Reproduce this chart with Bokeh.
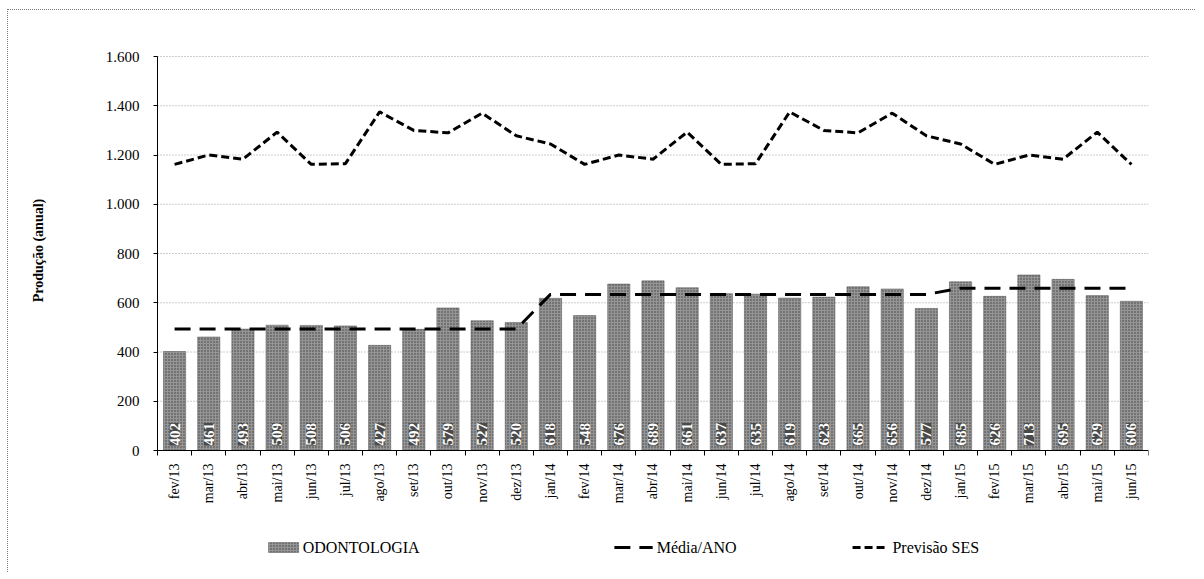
import math
from bokeh.plotting import figure
from bokeh.models import (ColumnDataSource, FixedTicker, Range1d, Label)
from bokeh.core.properties import value
from bokeh.embed import file_html
from bokeh.resources import INLINE

# ---- data -------------------------------------------------------------
months = ["fev/13", "mar/13", "abr/13", "mai/13", "jun/13", "jul/13", "ago/13",
          "set/13", "out/13", "nov/13", "dez/13",
          "jan/14", "fev/14", "mar/14", "abr/14", "mai/14", "jun/14", "jul/14",
          "ago/14", "set/14", "out/14", "nov/14", "dez/14",
          "jan/15", "fev/15", "mar/15", "abr/15", "mai/15", "jun/15"]
odontologia = [402, 461, 493, 509, 508, 506, 427, 492, 579, 527, 520,
               618, 548, 676, 689, 661, 637, 635, 619, 623, 665, 656, 577,
               685, 626, 713, 695, 629, 606]
media_ano = [493, 493, 493, 493, 493, 493, 493, 493, 493, 493, 493,
             634, 634, 634, 634, 634, 634, 634, 634, 634, 634, 634, 634,
             659, 659, 659, 659, 659, 659]
previsao_ses = [1162, 1200, 1183, 1293, 1162, 1165, 1375, 1300, 1290, 1370, 1278,
                1245, 1162, 1200, 1183, 1293, 1162, 1165, 1375, 1300, 1290, 1370,
                1278, 1245, 1162, 1200, 1183, 1293, 1162]
y_ticks = [0, 200, 400, 600, 800, 1000, 1200, 1400, 1600]
y_tick_labels = ["0", "200", "400", "600", "800", "1.000", "1.200", "1.400", "1.600"]
legend_labels = ["ODONTOLOGIA", "Média/ANO", "Previsão SES"]

FONT = "Liberation Serif"
N = len(months)

xs = [i + 0.5 for i in range(N)]
src = ColumnDataSource(dict(x=xs, month=months, odo=odontologia,
                            media=media_ano, prev=previsao_ses,
                            lab=[str(v) for v in odontologia],
                            zero=[0] * N))

# the frame covers the whole figure; axes are pinned at x=0 / y=0 so that
# the month labels, the y title and the legend all live inside the frame
p = figure(width=1188, height=563, output_backend="svg", toolbar_location=None,
           x_range=Range1d(-4.36, N), y_range=Range1d(-467, 1661),
           min_border_left=0, min_border_right=48, min_border_top=31,
           min_border_bottom=8)
p.outline_line_color = None
p.styles = {"margin-left": "7px", "margin-top": "9px",
            "border-left": "1px dotted #777", "border-top": "1px dotted #777"}

# horizontal grid limited to the category span
p.xgrid.visible = False
p.ygrid.visible = False
p.segment(x0=[0] * (len(y_ticks) - 1), x1=[N] * (len(y_ticks) - 1),
          y0=y_ticks[1:], y1=y_ticks[1:], line_color="#9a9a9a",
          line_dash="1 2", line_width=1)

BAR_STYLE = dict(fill_color="#959595", line_color="#555555", line_width=0.5,
                 hatch_pattern="dot", hatch_color="#404040", hatch_scale=3,
                 hatch_weight=1)
MEDIA_STYLE = dict(line_color="black", line_width=3, line_dash="16 9")
PREV_STYLE = dict(line_color="black", line_width=3, line_dash="8 4")

p.vbar(x="x", top="odo", width=0.65, source=src, **BAR_STYLE)

p.text(x="x", y="zero", text="lab", source=src, angle=math.pi / 2,
       text_align="left", text_baseline="middle", y_offset=-5,
       text_color="white", text_font=value(FONT), text_font_style="bold",
       text_font_size="15px", background_fill_color="#4a4a4a")

p.line(x="x", y="media", source=src, **MEDIA_STYLE)
p.line(x="x", y="prev", source=src, **PREV_STYLE)

# x axis
p.xaxis.fixed_location = 0
p.xaxis.bounds = (0, N)
p.xaxis.ticker = FixedTicker(ticks=xs, minor_ticks=list(range(N + 1)))
p.xaxis.major_label_overrides = {x: m for x, m in zip(xs, months)}
p.xaxis.major_label_orientation = math.pi / 2
p.xaxis.major_tick_out = 0
p.xaxis.major_tick_in = 0
p.xaxis.minor_tick_out = 5
p.xaxis.minor_tick_in = 0
p.xaxis.minor_tick_line_color = "black"
p.xaxis.major_label_text_font = FONT
p.xaxis.major_label_text_font_size = "14px"
p.xaxis.major_label_text_color = "black"
p.xaxis.major_label_standoff = 8
p.xaxis.axis_line_color = "black"

# y axis
p.yaxis.fixed_location = 0
p.yaxis.bounds = (0, 1600)
p.yaxis.ticker = FixedTicker(ticks=y_ticks, minor_ticks=[])
p.yaxis.major_label_overrides = {t: l for t, l in zip(y_ticks, y_tick_labels)}
p.yaxis.major_label_text_font = FONT
p.yaxis.major_label_text_font_size = "15px"
p.yaxis.major_label_text_color = "black"
p.yaxis.major_tick_out = 4
p.yaxis.major_tick_in = 0
p.yaxis.major_label_standoff = 14
p.yaxis.axis_line_color = "black"

p.add_layout(Label(text="Produção (anual)", x=30, y=812, x_units="screen",
                   y_units="data", angle=math.pi / 2, text_align="center",
                   text_baseline="middle", text_font=FONT,
                   text_font_style="bold", text_font_size="14px",
                   text_color="black"))

# ---- legend (drawn by hand so that its text uses the serif font) --------
LEG_Y = -394          # vertical centre of the legend row (data units)
LEG_H = 20            # half height of the bar swatch (data units)
# (swatch start, swatch end) for each entry, in x data units
leg_slots = [(3.25, 4.13), (13.37, 14.49), (20.34, 21.39)]

s0, s1 = leg_slots[0]
p.quad(left=[s0], right=[s1], bottom=[LEG_Y - LEG_H], top=[LEG_Y + LEG_H],
       **BAR_STYLE)
s0, s1 = leg_slots[1]
p.line(x=[s0, s1], y=[LEG_Y, LEG_Y], **MEDIA_STYLE)
s0, s1 = leg_slots[2]
p.line(x=[s0, s1], y=[LEG_Y, LEG_Y], **PREV_STYLE)

for (s0, s1), txt in zip(leg_slots, legend_labels):
    p.add_layout(Label(text=txt, x=s1, y=LEG_Y, x_units="data", y_units="data",
                       x_offset=4, text_align="left", text_baseline="middle",
                       text_font=FONT, text_font_size="16px",
                       text_color="black"))

open("out.html", "w").write(file_html(p, INLINE))
